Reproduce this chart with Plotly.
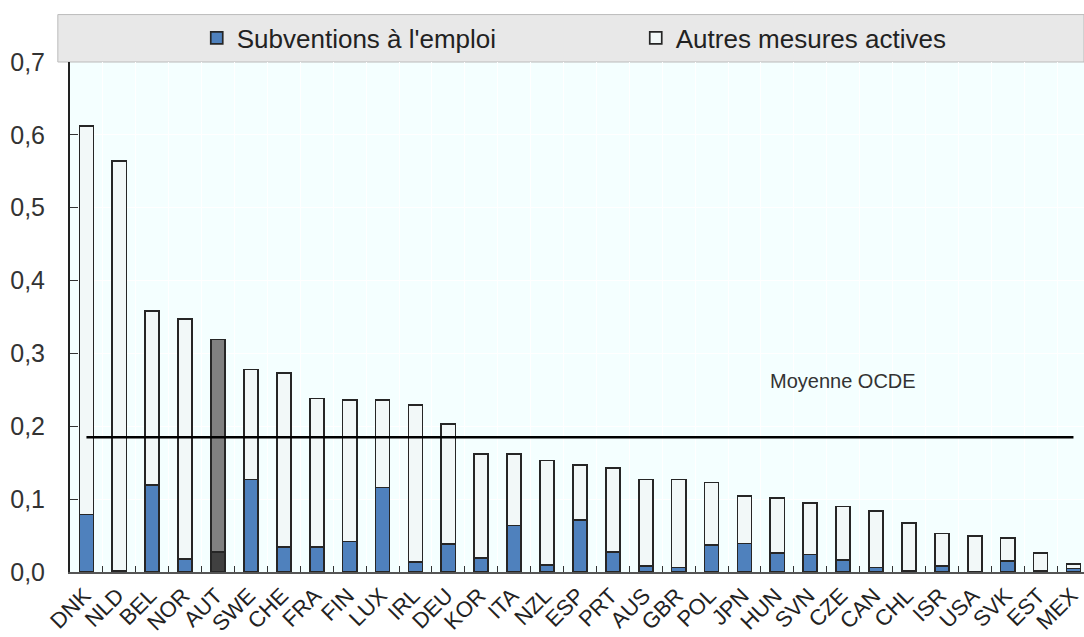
import plotly.graph_objects as go

# pays (ordre décroissant du total)
countries = ["DNK", "NLD", "BEL", "NOR", "AUT", "SWE", "CHE", "FRA", "FIN", "LUX",
             "IRL", "DEU", "KOR", "ITA", "NZL", "ESP", "PRT", "AUS", "GBR", "POL",
             "JPN", "HUN", "SVN", "CZE", "CAN", "CHL", "ISR", "USA", "SVK", "EST", "MEX"]

# dépenses totales en mesures actives (% du PIB)
total = [0.612, 0.564, 0.358, 0.347, 0.319, 0.278, 0.273, 0.238, 0.236, 0.236,
         0.229, 0.203, 0.162, 0.162, 0.153, 0.147, 0.143, 0.127, 0.127, 0.123,
         0.104, 0.102, 0.095, 0.090, 0.084, 0.067, 0.053, 0.049, 0.047, 0.026, 0.011]

# subventions à l'emploi
subsidies = [0.079, 0.002, 0.119, 0.018, 0.027, 0.127, 0.034, 0.034, 0.042, 0.116,
             0.014, 0.038, 0.019, 0.064, 0.010, 0.071, 0.027, 0.008, 0.006, 0.037,
             0.039, 0.026, 0.024, 0.016, 0.006, 0.002, 0.008, 0.0, 0.015, 0.002, 0.005]

oecd_mean = 0.185

others = [round(t - s, 3) for t, s in zip(total, subsidies)]

highlight = "AUT"
sub_colors = ["#404040" if c == highlight else "#4F81BD" for c in countries]
oth_colors = ["#808080" if c == highlight else "#F2F8F8" for c in countries]

fig = go.Figure()
fig.add_trace(go.Bar(x=countries, y=subsidies, name="Subventions à l'emploi",
                     marker=dict(color=sub_colors, line=dict(color="#262626", width=1.7))))
fig.add_trace(go.Bar(x=countries, y=others, name="Autres mesures actives",
                     marker=dict(color=oth_colors, line=dict(color="#262626", width=1.7))))
fig.add_trace(go.Scatter(x=[countries[0], countries[-1]], y=[oecd_mean, oecd_mean],
                         mode="lines", line=dict(color="black", width=2.5),
                         showlegend=False, hoverinfo="skip"))

fig.add_annotation(x=23, y=0.262, xref="x", yref="y", text="Moyenne OCDE",
                   showarrow=False, font=dict(size=20, color="#333333"))

# bandeau gris de la légende
fig.add_shape(type="rect", xref="paper", yref="paper", x0=-0.012, x1=1.0, y0=1.0, y1=1.093,
              fillcolor="#E8E8E8", line=dict(color="#BBBBBB", width=1), layer="below")

fig.update_layout(
    width=1084, height=637,
    barmode="stack", bargap=0.57,
    separators=", ",
    font=dict(family="Liberation Sans, Arial, sans-serif", color="#222222"),
    paper_bgcolor="white", plot_bgcolor="#F4FFFF",
    margin=dict(l=70, r=0, t=62, b=65, autoexpand=False),
    legend=dict(orientation="h", x=0.125, xanchor="left", y=1.047, yanchor="middle",
                bgcolor="rgba(0,0,0,0)", font=dict(size=26), traceorder="normal",
                entrywidth=394, entrywidthmode="pixels"),
    xaxis=dict(range=[-0.5, 30.32], tickangle=-45, tickfont=dict(size=22, color="#222222"),
               ticks="inside", tickson="boundaries", ticklen=6, tickcolor="#333333",
               ticklabelshift=-2, automargin=False,
               showgrid=True, gridcolor="white", gridwidth=1,
               showline=True, linecolor="#555555", linewidth=2),
    yaxis=dict(range=[0, 0.7], dtick=0.1, tickformat=".1f",
               tickfont=dict(size=25, color="#333333"),
               ticks="inside", ticklen=8, tickcolor="#333333", ticklabelstandoff=18,
               automargin=False,
               showgrid=True, gridcolor="white", gridwidth=1, zeroline=False,
               showline=True, linecolor="#222222", linewidth=2),
)

# pas de marge autour du graphique dans la page
fig.write_html("out.html", config={"displayModeBar": False},
               post_script="document.body.style.margin = '0';")
